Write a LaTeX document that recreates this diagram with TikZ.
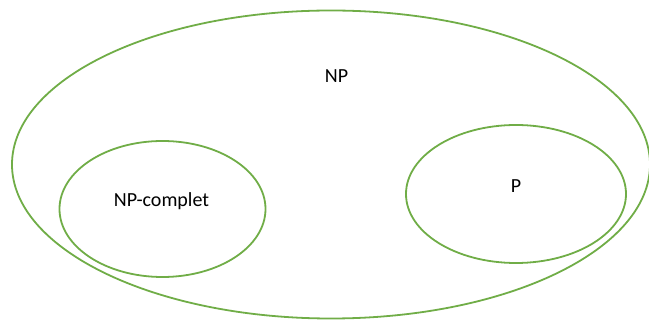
\documentclass[tikz,border=0pt]{standalone}
\usepackage{fontspec}
\setmainfont{Carlito}
\definecolor{setgreen}{HTML}{70AD47}
\begin{document}
\begin{tikzpicture}[x=1pt,y=-1pt,
  setline/.style={draw=setgreen,line width=1.8pt},
  lbl/.style={anchor=base,inner sep=0pt,font=\fontsize{20}{22}\selectfont,text=black}]
\useasboundingbox (0,0) rectangle (649,320);
\draw[setline] (331,164.5) ellipse [x radius=319, y radius=154];
\draw[setline] (162.5,209) ellipse [x radius=103, y radius=68];
\draw[setline] (516,194) ellipse [x radius=110, y radius=69];
\node[lbl] (np) at (336.5,82.5) {NP};
\node[lbl] (npc) at (161.5,206.5) {NP-complet};
\node[lbl] (p) at (516,192.5) {P};
\end{tikzpicture}
\end{document}
